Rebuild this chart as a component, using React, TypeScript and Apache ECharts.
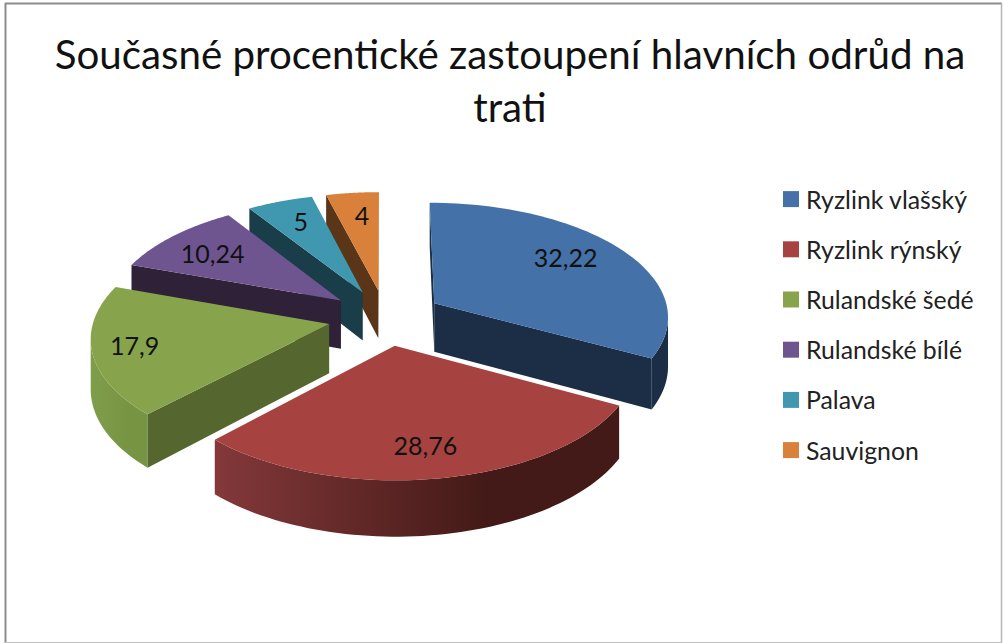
import React, { useEffect, useRef } from "react";
import * as echarts from "echarts";

const titleText = "Současné procentické zastoupení hlavních odrůd na\ntrati";
const categories = ["Ryzlink vlašský", "Ryzlink rýnský", "Rulandské šedé", "Rulandské bílé", "Palava", "Sauvignon"];
const values = [32.22, 28.76, 17.9, 10.24, 5, 4];
const topColors = ["#4471A7", "#A64341", "#87A44C", "#6F5590", "#3F98B0", "#D9803A"];
const edgeColors = ["#1B2E45", "#431A17", "#55672F", "#2E2138", "#1A3D4A", "#5B3517"];
const rimStops: string[][] = [
  ["#1B2E45", "#1B2E45"],
  ["#84383A", "#431A17"],
  ["#7F9E4A", "#779443"],
  ["#2E2138", "#2E2138"],
  ["#1A3D4A", "#1A3D4A"],
  ["#5B3517", "#5B3517"],
];
const labelNudges = [[-14, -4], [-2, 0], [-13, 0], [3, 3], [3, 0], [4, 1]];

const CX = 385.5, CY = 317.5, R = 235, RY = 114, P = 0.105, DEPTH = 49, EXPLODE = 0.245, LABEL_AT = 0.77;
const total = values.reduce((a, b) => a + b, 0);

const project = (u: number, v: number, drop = 0): number[] => {
  const f = 1 / (1 - P * v);
  return [CX + R * u * f, CY + (RY * v + drop) * f];
};

const sliceGeometry = (i: number) => {
  const before = values.slice(0, i).reduce((a, b) => a + b, 0);
  const a0 = (before / total) * Math.PI * 2;
  const a1 = ((before + values[i]) / total) * Math.PI * 2;
  const mid = (a0 + a1) / 2;
  return { a0, a1, mid, ou: EXPLODE * Math.sin(mid), ov: -EXPLODE * Math.cos(mid) };
};

const depthOrder = values
  .map((_, i) => i)
  .sort((a, b) => sliceGeometry(a).ov - sliceGeometry(b).ov);

const renderSlice = (i: number) => () => {
  const { a0, a1, mid, ou, ov } = sliceGeometry(i);
  const at = (a: number, drop = 0) => project(ou + Math.sin(a), ov - Math.cos(a), drop);
  const apex = project(ou, ov);
  const apexLow = project(ou, ov, DEPTH);
  const steps = 64;
  const angles: number[] = [];
  for (let s = 0; s <= steps; s++) angles.push(a0 + ((a1 - a0) * s) / steps);
  const arc = angles.map((a) => at(a));
  const children: any[] = [];

  // outer rim: only the part that turns towards the viewer
  const vis = angles.filter((a, s) =>
    (s < steps && arc[s + 1][0] < arc[s][0]) || (s > 0 && arc[s][0] < arc[s - 1][0])
  );
  if (vis.length > 1) {
    const points = [...vis.map((a) => at(a)), ...vis.slice().reverse().map((a) => at(a, DEPTH))];
    children.push({
      type: "polygon",
      shape: { points },
      style: {
        fill: new echarts.graphic.LinearGradient(0, 0, 1, 0, [
          { offset: 0, color: rimStops[i][0] },
          { offset: 0.67, color: rimStops[i][1] },
          { offset: 1, color: rimStops[i][1] },
        ]),
      },
    });
  }
  // straight cut faces
  const cut = (from: number[], to: number[], fromLow: number[], toLow: number[]) => {
    if (to[0] < from[0]) {
      children.push({
        type: "polygon",
        shape: { points: [from, to, toLow, fromLow] },
        style: { fill: edgeColors[i] },
      });
    }
  };
  cut(apex, arc[0], apexLow, at(a0, DEPTH));
  cut(arc[steps], apex, at(a1, DEPTH), apexLow);
  // top face
  children.push({
    type: "polygon",
    shape: { points: [apex, ...arc] },
    style: { fill: topColors[i] },
  });
  // value label
  const lp = project(ou + LABEL_AT * Math.sin(mid), ov - LABEL_AT * Math.cos(mid));
  children.push({
    type: "text",
    x: lp[0] + labelNudges[i][0],
    y: lp[1] + labelNudges[i][1],
    style: {
      text: String(values[i]).replace(".", ","),
      fill: "#111111",
      font: "25px Lato",
      align: "center",
      verticalAlign: "middle",
    },
  });
  return { type: "group", children };
};

export default function App() {
  const ref = useRef<HTMLDivElement>(null);
  useEffect(() => {
    const chart = echarts.init(ref.current!, undefined, { renderer: "svg" });
    chart.setOption({
      animation: false,
      backgroundColor: "#ffffff",
      title: {
        text: titleText,
        left: 505,
        top: 22,
        textAlign: "center",
        textStyle: { fontFamily: "Lato", fontSize: 40.3, fontWeight: "normal", color: "#111111", lineHeight: 53 },
      },
      legend: {
        orient: "vertical",
        left: 778,
        top: 181.6,
        icon: "rect",
        itemWidth: 16,
        itemHeight: 16,
        itemGap: 25.2,
        data: categories,
        textStyle: { fontFamily: "Lato", fontSize: 24.8, color: "#222222", padding: [0, 0, 0, 2] },
      },
      graphic: [
        { type: "line", shape: { x1: 5, y1: 3.5, x2: 1002, y2: 3.5 }, style: { stroke: "#8C8C8C", lineWidth: 2 } },
        { type: "line", shape: { x1: 5.5, y1: 3, x2: 5.5, y2: 643 }, style: { stroke: "#8C8C8C", lineWidth: 2 } },
        { type: "line", shape: { x1: 1001.5, y1: 3, x2: 1001.5, y2: 643 }, style: { stroke: "#B5B5B5", lineWidth: 1.5 } },
        { type: "line", shape: { x1: 5, y1: 642.5, x2: 1002, y2: 642.5 }, style: { stroke: "#C0C0C0", lineWidth: 1 } },
      ],
      series: categories.map((name, i) => ({
        type: "custom",
        name,
        coordinateSystem: "none",
        z: 2 + depthOrder.indexOf(i),
        itemStyle: { color: topColors[i] },
        data: [values[i]],
        renderItem: renderSlice(i),
      })),
    });
    return () => chart.dispose();
  }, []);
  return (
    <div
      ref={ref}
      style={{ position: "fixed", left: 0, top: 0, width: 1003, height: 643 }}
    />
  );
}
